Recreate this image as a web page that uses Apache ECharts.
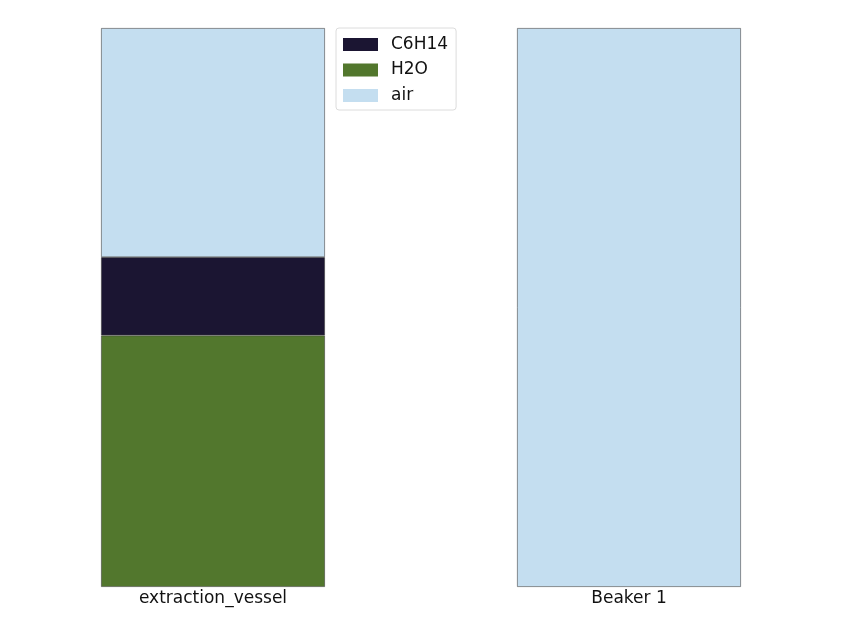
<!DOCTYPE html>
<html>
<head>
<meta charset="utf-8">
<script src="https://cdn.jsdelivr.net/npm/echarts@6/dist/echarts.min.js"></script>
<style>
  html, body { margin: 0; padding: 0; background: #fff; }
  #main { width: 841px; height: 636px; }
</style>
</head>
<body>
<div id="main"></div>
<script>
// vessels and their fill fractions (bottom to top: H2O, C6H14, air)
var vessels = ['extraction_vessel', 'Beaker 1'];
var components = ['C6H14', 'H2O', 'air'];
var h2o = [0.45, 0];
var c6h14 = [0.14, 0];
var air = [0.41, 1.0];

var colors = { C6H14: '#1b1532', H2O: '#52772d', air: '#c4def0' };

var chart = echarts.init(document.getElementById('main'));

var grids = [
  { left: 101, top: 28, width: 224, bottom: 49 },
  { left: 517, top: 28, width: 224, bottom: 49 }
];

var xAxes = [], yAxes = [], series = [];
vessels.forEach(function (name, i) {
  xAxes.push({
    type: 'category', gridIndex: i, data: [name],
    axisLine: { show: false }, axisTick: { show: false },
    axisLabel: { fontSize: 17, color: '#111', fontFamily: 'DejaVu Sans', margin: 3 }
  });
  yAxes.push({
    type: 'value', gridIndex: i, min: 0, max: 1, show: false
  });
  var parts = [['H2O', h2o[i]], ['C6H14', c6h14[i]], ['air', air[i]]];
  parts.forEach(function (p) {
    series.push({
      name: p[0], type: 'bar', stack: 'v' + i,
      xAxisIndex: i, yAxisIndex: i,
      barWidth: '100%',
      data: [p[1]],
      itemStyle: { color: colors[p[0]], borderColor: 'rgba(60,60,60,0.7)', borderWidth: p[1] > 0 ? 0.8 : 0 },
      emphasis: { disabled: true },
      animation: false
    });
  });
});

chart.setOption({
  backgroundColor: '#fff',
  animation: false,
  grid: grids,
  xAxis: xAxes,
  yAxis: yAxes,
  legend: {
    data: components,
    orient: 'vertical',
    left: 336, top: 28,
    icon: 'rect', itemWidth: 35, itemHeight: 13, itemGap: 8.5,
    itemStyle: { borderWidth: 0 },
    padding: [8, 8, 6, 7],
    borderColor: '#dcdcdc', borderWidth: 1, borderRadius: 3,
    backgroundColor: '#fff',
    textStyle: { fontSize: 17, color: '#111', fontFamily: 'DejaVu Sans', padding: [0, 0, 0, 8] },
    selectedMode: false
  },
  series: series
});
</script>
</body>
</html>
